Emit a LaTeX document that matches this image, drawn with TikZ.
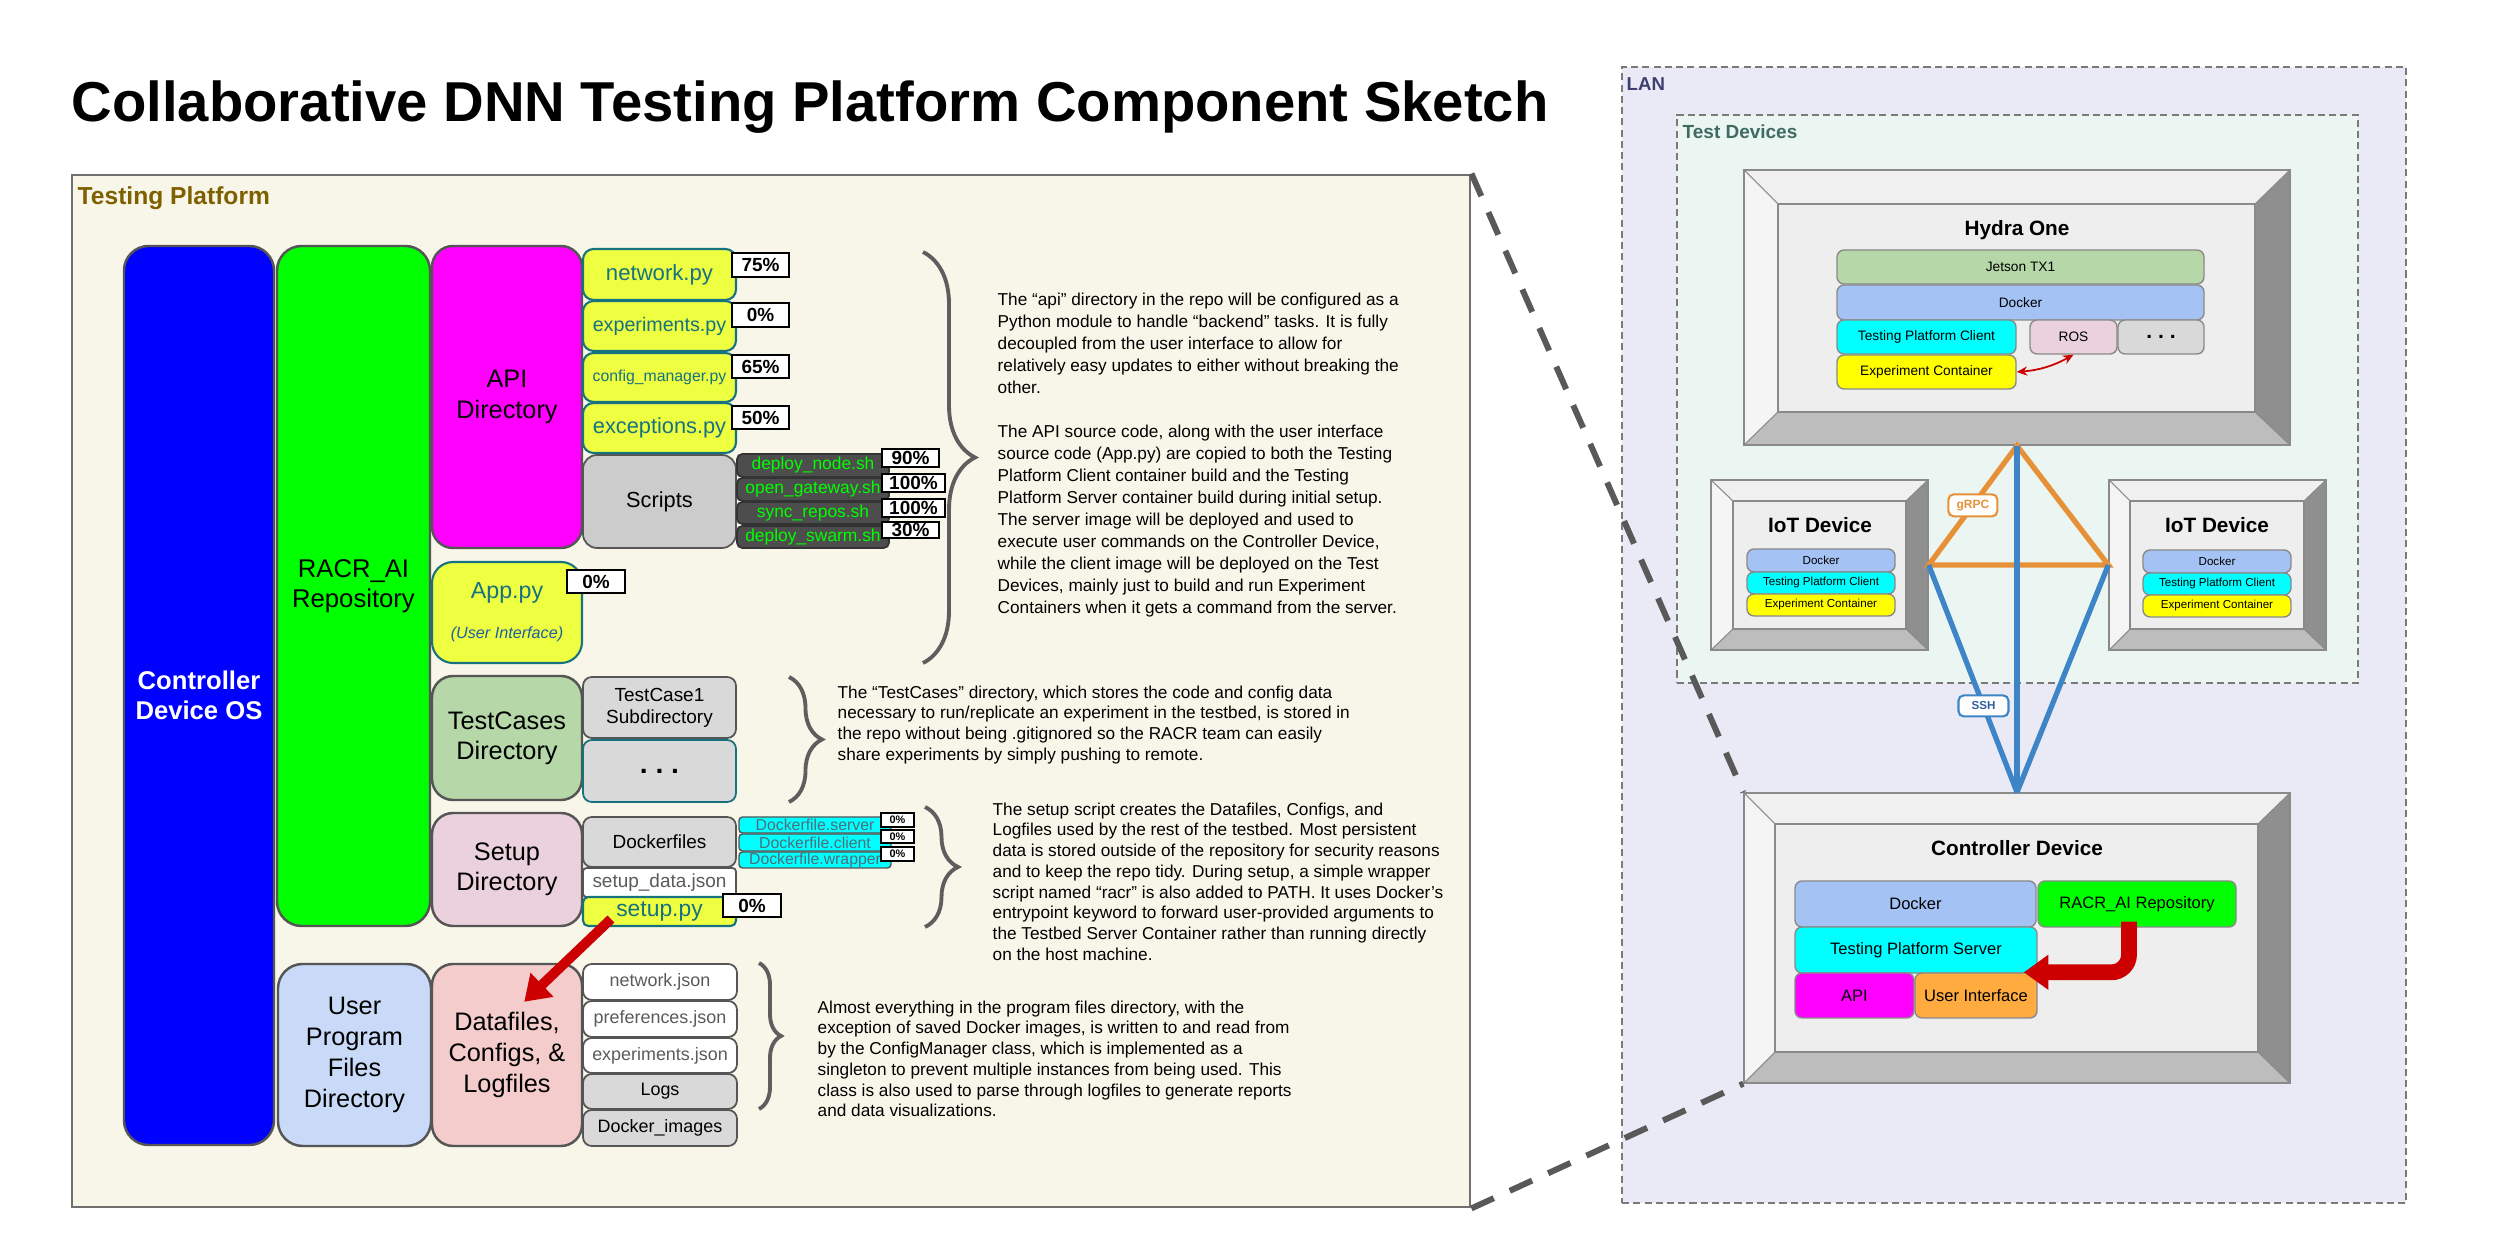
\documentclass[tikz,border=0pt]{standalone}
\usepackage{fontspec}
\setmainfont{Liberation Sans}
\usepackage{tikz}
\usepackage{xcolor}
\usetikzlibrary{arrows.meta}
\usetikzlibrary{decorations.pathreplacing}
\definecolor{panelBgColor}{HTML}{F8F6E9}
\definecolor{panelLineColor}{HTML}{707070}
\definecolor{panelTextColor}{HTML}{7F6000}
\definecolor{colLineColor}{HTML}{555555}
\definecolor{osColor}{HTML}{0000FF}
\definecolor{repoColor}{HTML}{00FF00}
\definecolor{apiColor}{HTML}{FF00FF}
\definecolor{pyColor}{HTML}{EEFF41}
\definecolor{pyLineColor}{HTML}{17727F}
\definecolor{uiTextColor}{HTML}{1D5FA0}
\definecolor{scriptColor}{HTML}{CCCCCC}
\definecolor{shColor}{HTML}{4D4D4D}
\definecolor{shLineColor}{HTML}{333333}
\definecolor{shTextColor}{HTML}{00FF00}
\definecolor{caseColor}{HTML}{B6D7A8}
\definecolor{subColor}{HTML}{D9D9D9}
\definecolor{setupColor}{HTML}{EAD1DC}
\definecolor{dockColor}{HTML}{00FFFF}
\definecolor{dockTextColor}{HTML}{4E6E7A}
\definecolor{jsonTextColor}{HTML}{5A5A5A}
\definecolor{userColor}{HTML}{C9DAF8}
\definecolor{dataColor}{HTML}{F4CCCC}
\definecolor{braceColor}{HTML}{5E5E5E}
\definecolor{redArrowColor}{HTML}{CC0000}
\definecolor{dashColor}{HTML}{595959}
\definecolor{lanBgColor}{HTML}{EAEAF6}
\definecolor{lanLineColor}{HTML}{7A7A7A}
\definecolor{lanTextColor}{HTML}{3F3F6F}
\definecolor{devBgColor}{HTML}{EBF6F3}
\definecolor{devTextColor}{HTML}{3F6B60}
\definecolor{bevelTopColor}{HTML}{F0F0F0}
\definecolor{bevelLeftColor}{HTML}{F5F5F5}
\definecolor{bevelRightColor}{HTML}{8F8F8F}
\definecolor{bevelBottomColor}{HTML}{BDBDBD}
\definecolor{bevelFaceColor}{HTML}{EEEEEE}
\definecolor{bevelLineColor}{HTML}{8A8A8A}
\definecolor{jetsonColor}{HTML}{B6D7A8}
\definecolor{dockerColor}{HTML}{A4C2F4}
\definecolor{clientColor}{HTML}{00FFFF}
\definecolor{rosColor}{HTML}{EAD1DC}
\definecolor{moreColor}{HTML}{D9D9D9}
\definecolor{expColor}{HTML}{FFFF00}
\definecolor{uiColor}{HTML}{FFAB40}
\definecolor{grpcColor}{HTML}{E69138}
\definecolor{sshColor}{HTML}{3D85C6}
\definecolor{sshTextColor}{HTML}{2F5F9A}
\newcommand{\fsz}[2]{\fontsize{#1}{#2}\selectfont}
% outer x1 y1 x2 y2, inner x1 y1 x2 y2
\newcommand{\bevelbox}[8]{%
\fill[color=bevelTopColor] (#1,#2) -- (#3,#2) -- (#7,#6) -- (#5,#6) -- cycle;
\fill[color=bevelLeftColor] (#1,#2) -- (#5,#6) -- (#5,#8) -- (#1,#4) -- cycle;
\fill[color=bevelRightColor] (#3,#2) -- (#3,#4) -- (#7,#8) -- (#7,#6) -- cycle;
\fill[color=bevelBottomColor] (#1,#4) -- (#5,#8) -- (#7,#8) -- (#3,#4) -- cycle;
\draw[color=bevelLineColor, fill=bevelFaceColor, line width=0.4pt] (#5,#6) rectangle (#7,#8);
\draw[color=bevelLineColor, line width=0.4pt] (#1,#2) rectangle (#3,#4);
\draw[color=bevelLineColor, line width=0.3pt] (#1,#2) -- (#5,#6) (#3,#2) -- (#7,#6)
(#1,#4) -- (#5,#8) (#3,#4) -- (#7,#8);
}

\begin{document}
\begin{tikzpicture}[x=0.1mm,y=-0.1mm,
spanbox/.style args={#1/#2/#3/#4}{at={({(#1+#3)/2},{(#2+#4)/2})}, anchor=center,
minimum width={(#3-#1)*0.1mm}, minimum height={(#4-#2)*0.1mm}},
cell/.style={inner sep=0pt, align=center},
colbox/.style={cell, draw=colLineColor, line width=0.7pt, rounded corners=7pt, font=\fsz{7.3}{8.6}},
folder/.style={cell, draw=colLineColor, line width=0.7pt, rounded corners=6pt, font=\fsz{7.2}{8.6}},
pyfile/.style={cell, draw=pyLineColor, fill=pyColor, text=pyLineColor, line width=0.6pt, rounded corners=3pt},
subbox/.style={cell, draw=colLineColor, line width=0.5pt, rounded corners=2.5pt},
shfile/.style={cell, draw=shLineColor, fill=shColor, text=shTextColor, line width=0.5pt, rounded corners=1.5pt, font=\fsz{4.95}{5}},
dockfile/.style={cell, draw=colLineColor, fill=dockColor, text=dockTextColor, line width=0.4pt, rounded corners=1pt, font=\fsz{4.5}{5}},
jsonfile/.style={subbox, fill=white, text=jsonTextColor, font=\fsz{5.1}{6}},
pct/.style={cell, draw=black, fill=white, line width=0.8pt, font=\bfseries\fsz{5.4}{6}},
pctsmall/.style={pct, line width=0.6pt, font=\bfseries\fsz{3.1}{4}},
notetext/.style={anchor=north west, inner sep=0pt, align=left},
curly/.style={decorate, draw=braceColor, line width=1.1pt},
layerbox/.style={cell, draw=bevelLineColor, line width=0.4pt, rounded corners=2pt},
devtitle/.style={anchor=base, inner sep=0pt, font=\bfseries\fsz{5.9}{7}},
linktag/.style={cell, fill=white, line width=0.6pt, rounded corners=1.5pt, minimum width=4.9mm, minimum height=2.2mm, font=\bfseries\fsz{3.4}{4}}]

\useasboundingbox (0,0) rectangle (2500,1250);
\fill[white] (0,0) rectangle (2500,1250);

% background layer
\begin{scope}
\node[spanbox=1622/67/2406/1203, inner sep=0pt, draw=lanLineColor, fill=lanBgColor,
line width=0.4pt, dash pattern=on 2pt off 1.2pt] (lan) {};
\node[anchor=base west, inner sep=0pt, text=lanTextColor, font=\bfseries\fsz{5.3}{6}] (lanLabel) at (1626,91) {LAN};
\node[spanbox=1677/115/2358/683, inner sep=0pt, draw=lanLineColor, fill=devBgColor,
line width=0.4pt, dash pattern=on 2pt off 1.2pt] (testDev) {};
\node[anchor=base west, inner sep=0pt, text=devTextColor, font=\bfseries\fsz{5.4}{6}] (testDevLabel) at (1682,139) {Test Devices};
\node[spanbox=72/175/1470/1207, inner sep=0pt, draw=panelLineColor, fill=panelBgColor, line width=0.8pt] (panel) {};
\node[anchor=base west, inner sep=0pt, text=panelTextColor, font=\bfseries\fsz{7}{8}] (panelLabel) at (77,205) {Testing Platform};
\node[anchor=base west, inner sep=0pt, font=\bfseries\fsz{16}{18}] (title) at (71,122)
{Collaborative DNN Testing Platform Component Sketch};
\end{scope}

% column layer
\begin{scope}
\node[colbox, fill=osColor, text=white, font=\bfseries\fsz{7.3}{8.6}, spanbox=124/246/274/1145] (os) {Controller\\Device OS};
\node[colbox, fill=repoColor, spanbox=277/246/430/926] (repo) {RACR\_AI\\Repository};
\node[colbox, fill=userColor, font=\fsz{7.2}{8.8}, spanbox=278/964/431/1146] (userDir) {User\\Program\\Files\\Directory};
\node[folder, fill=apiColor, spanbox=432/246/582/548] (apiDir) {API\\Directory};
\node[pyfile, rounded corners=6pt, font=\fsz{6.6}{11.4}, spanbox=432/562/582/663] (appPy)
{App.py\\{\color{uiTextColor}\itshape\fsz{4.6}{5.5}(User Interface)}};
\node[folder, fill=caseColor, spanbox=432/676/582/800] (caseDir) {TestCases\\Directory};
\node[folder, fill=setupColor, spanbox=432/813/582/926] (setupDir) {Setup\\Directory};
\node[folder, fill=dataColor, font=\fsz{7.2}{8.8}, spanbox=432/964/582/1146] (dataDir) {Datafiles,\\Configs, \&\\Logfiles};
\end{scope}

% file layer
\begin{scope}
\node[pyfile, font=\fsz{6.3}{7}, spanbox=583/249/736/300] (netPy) {network.py};
\node[pyfile, font=\fsz{5.6}{7}, spanbox=583/301/736/351] (expPy) {experiments.py};
\node[pyfile, font=\fsz{4.5}{6}, spanbox=583/353/736/402] (cfgPy) {config\_manager.py};
\node[pyfile, font=\fsz{6.2}{7}, spanbox=583/403/736/453] (excPy) {exceptions.py};
\node[subbox, fill=scriptColor, rounded corners=4pt, font=\fsz{6.2}{7}, spanbox=583/455/736/548] (scripts) {Scripts};
\node[shfile, spanbox=737/454/889/477] (nodeSh) {deploy\_node.sh};
\node[shfile, spanbox=737/478/889/501] (gatewaySh) {open\_gateway.sh};
\node[shfile, spanbox=737/502/889/524] (syncSh) {sync\_repos.sh};
\node[shfile, spanbox=737/526/889/548] (swarmSh) {deploy\_swarm.sh};
\node[subbox, fill=subColor, font=\fsz{5.4}{6.3}, spanbox=583/677/736/738] (case1) {TestCase1\\Subdirectory};
\node[subbox, fill=subColor, draw=pyLineColor, font=\bfseries\fsz{8}{9}, spanbox=583/740/736/802] (caseMore) {.\ .\ .};
\node[subbox, fill=subColor, font=\fsz{5.4}{6}, spanbox=583/817/736/867] (dockDir) {Dockerfiles};
\node[jsonfile, rounded corners=1pt, font=\fsz{5.4}{6}, spanbox=583/868/736/897] (setupJson) {setup\_data.json};
\node[pyfile, rounded corners=1.5pt, font=\fsz{6.5}{7}, spanbox=583/897/736/926] (setupPy) {setup.py};
\node[dockfile, spanbox=739/817/891/833] (dockServer) {Dockerfile.server};
\node[dockfile, spanbox=739/834/891/851] (dockClient) {Dockerfile.client};
\node[dockfile, spanbox=739/852/891/868] (dockWrapper) {Dockerfile.wrapper};
\node[jsonfile, spanbox=583/964/737/1000] (netJson) {network.json};
\node[jsonfile, spanbox=583/1001/737/1037] (prefJson) {preferences.json};
\node[jsonfile, spanbox=583/1038/737/1073] (expJson) {experiments.json};
\node[jsonfile, fill=subColor, text=black, spanbox=583/1074/737/1109] (logs) {Logs};
\node[jsonfile, fill=subColor, text=black, spanbox=583/1110/737/1146] (images) {Docker\_images};
\end{scope}

% percent layer
\begin{scope}
\node[pct, spanbox=732/253/789/277] (netPct) {75\%};
\node[pct, spanbox=732/303/789/327] (expPct) {0\%};
\node[pct, spanbox=732/355/789/378] (cfgPct) {65\%};
\node[pct, spanbox=732/406/789/429] (excPct) {50\%};
\node[pct, spanbox=882/449/939/467] (nodePct) {90\%};
\node[pct, spanbox=882/474/945/492] (gatewayPct) {100\%};
\node[pct, spanbox=882/499/945/517] (syncPct) {100\%};
\node[pct, spanbox=882/522/939/538] (swarmPct) {30\%};
\node[pct, spanbox=567/570/625/593] (appPct) {0\%};
\node[pct, spanbox=723/894/781/917] (setupPct) {0\%};
\node[pctsmall, spanbox=881/813/914/827] (serverPct) {0\%};
\node[pctsmall, spanbox=881/830/914/843] (clientPct) {0\%};
\node[pctsmall, spanbox=881/847/914/861] (wrapperPct) {0\%};
\end{scope}

% brace layer
\begin{scope}
\draw[curly, decoration={brace, amplitude=5.2mm}] (923,252) -- (923,663);
\draw[curly, decoration={brace, amplitude=3.3mm}] (789,677) -- (789,802);
\draw[curly, decoration={brace, amplitude=3.3mm}] (925,807) -- (925,927);
\draw[curly, decoration={brace, amplitude=2.2mm}] (759,963) -- (759,1109);
\end{scope}

% note layer
\begin{scope}
\node[notetext, font=\fsz{4.9}{6.26}] (apiNote) at (997,292) {%
The “api” directory in the repo will be configured as a\\
Python module to handle “backend” tasks. It is fully\\
decoupled from the user interface to allow for\\
relatively easy updates to either without breaking the\\
other.\\[6.26pt]
The API source code, along with the user interface\\
source code (App.py) are copied to both the Testing\\
Platform Client container build and the Testing\\
Platform Server container build during initial setup.\\
The server image will be deployed and used to\\
execute user commands on the Controller Device,\\
while the client image will be deployed on the Test\\
Devices, mainly just to build and run Experiment\\
Containers when it gets a command from the server.};
\node[notetext, font=\fsz{4.9}{5.9}] (caseNote) at (837,685) {%
The “TestCases” directory, which stores the code and config data\\
necessary to run/replicate an experiment in the testbed, is stored in\\
the repo without being .gitignored so the RACR team can easily\\
share experiments by simply pushing to remote.};
\node[notetext, font=\fsz{4.9}{5.9}] (setupNote) at (992,802) {%
The setup script creates the Datafiles, Configs, and\\
Logfiles used by the rest of the testbed. Most persistent\\
data is stored outside of the repository for security reasons\\
and to keep the repo tidy. During setup, a simple wrapper\\
script named “racr” is also added to PATH. It uses Docker’s\\
entrypoint keyword to forward user-provided arguments to\\
the Testbed Server Container rather than running directly\\
on the host machine.};
\node[notetext, font=\fsz{4.9}{5.9}] (dataNote) at (817,1000) {%
Almost everything in the program files directory, with the\\
exception of saved Docker images, is written to and read from\\
by the ConfigManager class, which is implemented as a\\
singleton to prevent multiple instances from being used. This\\
class is also used to parse through logfiles to generate reports\\
and data visualizations.};
\end{scope}

% setup writes the program files
\draw[redArrowColor, line width=2.8pt, -{Triangle[length=7pt, width=9pt]}]
([xshift=2.9mm, yshift=0.8mm]setupPy.south west) -- ([xshift=-5.9mm, yshift=-3.9mm]dataDir.north east);

% device layer
\begin{scope}
\bevelbox{1744}{170}{2290}{445}{1778}{204}{2255}{412}
\node[spanbox=1744/170/2290/445, inner sep=0pt] (hydra) {};
\node[devtitle] (hydraTitle) at (2017,236) {Hydra One};
\node[layerbox, fill=jetsonColor, font=\fsz{3.9}{4.5}, spanbox=1837/250/2204/284] (jetson) {Jetson TX1};
\node[layerbox, fill=dockerColor, font=\fsz{3.9}{4.5}, spanbox=1837/285/2204/320] (hDocker) {Docker};
\node[layerbox, fill=clientColor, font=\fsz{3.9}{4.5}, spanbox=1837/320/2016/354] (hClient) {Testing Platform Client};
\node[layerbox, fill=rosColor, font=\fsz{3.9}{4.5}, spanbox=2030/320/2117/354] (hRos) {ROS};
\node[layerbox, fill=moreColor, font=\bfseries\fsz{6}{7}, spanbox=2118/320/2204/354] (hMore) {.\ .\ .};
\node[layerbox, fill=expColor, font=\fsz{3.9}{4.5}, spanbox=1837/355/2016/389] (hExp) {Experiment Container};
\draw[redArrowColor, line width=0.5pt, {Stealth[length=3pt, width=2.6pt]}-{Stealth[length=3pt, width=2.6pt]}]
(hExp.east) to[bend right=12] (hRos.south);

\bevelbox{1711}{480}{1928}{650}{1733}{501}{1906}{629}
\node[spanbox=1711/480/1928/650, inner sep=0pt] (iotL) {};
\node[devtitle] (iotLTitle) at (1820,533) {IoT Device};
\node[layerbox, fill=dockerColor, font=\fsz{3.3}{4}, spanbox=1747/549/1895/572] (lDocker) {Docker};
\node[layerbox, fill=clientColor, font=\fsz{3.3}{4}, spanbox=1747/572/1895/594] (lClient) {Testing Platform Client};
\node[layerbox, fill=expColor, font=\fsz{3.3}{4}, spanbox=1747/594/1895/616] (lExp) {Experiment Container};

\bevelbox{2109}{480}{2326}{650}{2130}{501}{2304}{629}
\node[spanbox=2109/480/2326/650, inner sep=0pt] (iotR) {};
\node[devtitle] (iotRTitle) at (2217,533) {IoT Device};
\node[layerbox, fill=dockerColor, font=\fsz{3.3}{4}, spanbox=2143/550/2291/573] (rDocker) {Docker};
\node[layerbox, fill=clientColor, font=\fsz{3.3}{4}, spanbox=2143/573/2291/595] (rClient) {Testing Platform Client};
\node[layerbox, fill=expColor, font=\fsz{3.3}{4}, spanbox=2143/595/2291/617] (rExp) {Experiment Container};

\bevelbox{1744}{793}{2290}{1083}{1775}{824}{2258}{1052}
\node[spanbox=1744/793/2290/1083, inner sep=0pt] (ctrl) {};
\node[devtitle] (ctrlTitle) at (2017,856) {Controller Device};
\node[layerbox, fill=dockerColor, font=\fsz{4.7}{5.5}, spanbox=1795/881/2036/927] (cDocker) {Docker};
\node[layerbox, fill=repoColor, font=\fsz{4.7}{5.5}, spanbox=2038/881/2236/927] (cRepo) {RACR\_AI Repository};
\node[layerbox, fill=clientColor, font=\fsz{4.7}{5.5}, spanbox=1795/927/2037/973] (cServer) {Testing Platform Server};
\node[layerbox, fill=apiColor, font=\fsz{4.7}{5.5}, spanbox=1795/973/1914/1018] (cApi) {API};
\node[layerbox, fill=uiColor, font=\fsz{4.7}{5.5}, spanbox=1915/973/2037/1018] (cUi) {User Interface};
\draw[redArrowColor, line width=4.5pt, rounded corners=5pt, -{Triangle[length=7pt, width=9.5pt]}]
([xshift=-0.8mm, yshift=0.6mm]cRepo.south) |- ([xshift=-1.4mm]cUi.north east);
\end{scope}

% link layer
\begin{scope}
\draw[grpcColor, line width=1.5pt] (hydra.south) -- node[linktag, draw=grpcColor, text=grpcColor] (grpc) {gRPC}
(iotL.east) -- (iotR.west) -- cycle;
\draw[sshColor, line width=1.5pt] (hydra.south) -- (ctrl.north);
\draw[sshColor, line width=1.5pt] (iotL.east) -- node[pos=0.62, linktag, minimum width=5mm, minimum height=2.1mm,
draw=sshColor, text=sshTextColor, font=\bfseries\fsz{3.3}{4}] (ssh) {SSH} (ctrl.north);
\draw[sshColor, line width=1.5pt] (iotR.west) -- (ctrl.north);
\end{scope}

% zoom lines
\draw[dashColor, line width=1.7pt, dash pattern=on 7pt off 5pt] (panel.north east) -- (ctrl.north west);
\draw[dashColor, line width=1.7pt, dash pattern=on 7pt off 5pt] (panel.south east) -- (ctrl.south west);

\end{tikzpicture}
\end{document}
